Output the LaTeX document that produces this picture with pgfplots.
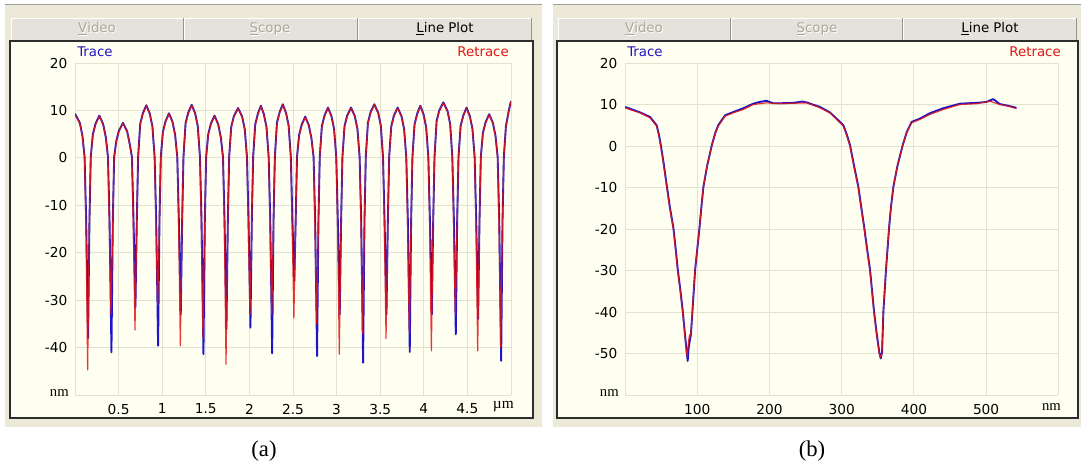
\documentclass[border=0pt]{standalone}
\usepackage{fontspec}
\setmainfont{DejaVu Sans}
\newfontfamily\serif{Liberation Serif}
\usepackage{pgfplots}
\pgfplotsset{compat=1.18}

\definecolor{panel}{RGB}{236,233,216}
\definecolor{ivory}{RGB}{255,255,241}
\definecolor{gridc}{RGB}{226,226,208}
\definecolor{btn}{RGB}{228,226,218}
\definecolor{btnshadow}{RGB}{150,148,138}
\definecolor{topline}{RGB}{160,158,150}
\definecolor{boxc}{RGB}{45,45,45}
\definecolor{dis}{RGB}{172,168,153}
\definecolor{trcol}{RGB}{30,20,200}
\definecolor{rtcol}{RGB}{228,20,20}

\newcommand\tabbtn[2]{%
  \fill[btn] (#1,18) rectangle (#2,40);
  \draw[white,line width=0.75pt] (#1,40)--(#1,18)--(#2,18);
  \draw[btnshadow,line width=0.75pt] (#1,40)--(#2,40)--(#2,18);}
\newcommand\distab[2]{%
  \node[text=white] at ({#1+1},30) {#2};
  \node[text=dis] at (#1,29) {#2};}

\pgfplotsset{afm/.style={
  scale only axis, height=249pt,
  axis line style={draw=none}, major tick length=0pt,
  grid=major, grid style={gridc, line width=0.75pt},
  ticklabel style={font=\fontsize{10.3}{12}\selectfont, inner sep=0pt},
  yticklabel style={anchor=east, xshift=-5.5pt},
  xticklabel style={anchor=north, yshift=-6.5pt}},
  tr/.style={trcol, line width=1.4pt, line join=round},
  rt/.style={rtcol, line width=0.9pt, line join=round, opacity=0.85}}

\begin{document}
\begin{tikzpicture}[x=0.75pt,y=-0.75pt,font=\fontsize{10}{12}\selectfont]
\fill[white] (0,0) rectangle (1081,468);
% panels
\fill[panel] (5,5) rectangle (542,427);
\fill[panel] (553,5) rectangle (1081,427);
\draw[topline,line width=1.2pt] (5,4.5)--(542,4.5);
\draw[topline,line width=1.2pt] (553,4.5)--(1081,4.5);
% tabs
\tabbtn{11}{183}\tabbtn{184}{357}\tabbtn{358}{531}
\tabbtn{558}{730}\tabbtn{731}{902}\tabbtn{903}{1076}
\distab{97}{\underline{V}ideo}\distab{270}{\underline{S}cope}
\node at (445,29) {\underline{L}ine Plot};
\distab{644}{\underline{V}ideo}\distab{817}{\underline{S}cope}
\node at (990,29) {\underline{L}ine Plot};
% plot boxes
\draw[fill=ivory,draw=boxc,line width=1.2pt] (10,41) rectangle (533,418);
\draw[fill=ivory,draw=boxc,line width=1.2pt] (557,41) rectangle (1078,418);

\coordinate (A) at (75,395);
\coordinate (B) at (625,395);

\begin{axis}[afm, at={(A)}, anchor=south west, width=327pt,
  xmin=0, xmax=5, ymin=-50, ymax=20,
  xtick={0,0.5,1,1.5,2,2.5,3,3.5,4,4.5,5},
  xticklabels={,0.5,1,1.5,2,2.5,3,3.5,4,4.5,},
  ytick={-50,-40,-30,-20,-10,0,10,20},
  yticklabels={,-40,-30,-20,-10,0,10,20}]
\addplot[tr] coordinates {
(0,9.3)
(0.055,7.4) (0.085,4.7) (0.110,0.2) (0.128,-13) (0.150,-38.0) (0.166,-13) (0.181,0.2) (0.205,5.0) (0.235,7.2) (0.279,8.9)
(0.323,7.1) (0.353,4.4) (0.378,0.2) (0.396,-13) (0.418,-41.0) (0.434,-13) (0.449,0.2) (0.473,3.5) (0.503,5.7) (0.550,7.4)
(0.598,5.6) (0.628,2.9) (0.653,0.2) (0.671,-13) (0.693,-31.5) (0.709,-13) (0.724,0.2) (0.748,7.2) (0.778,9.4) (0.818,11.1)
(0.858,9.3) (0.888,6.6) (0.913,0.2) (0.931,-13) (0.953,-39.6) (0.969,-13) (0.984,0.2) (1.008,5.5) (1.038,7.7) (1.078,9.4)
(1.118,7.6) (1.148,4.9) (1.173,0.2) (1.191,-13) (1.213,-33.0) (1.229,-13) (1.244,0.2) (1.268,7.3) (1.298,9.5) (1.338,11.2)
(1.378,9.4) (1.408,6.7) (1.433,0.2) (1.451,-13) (1.473,-41.4) (1.489,-13) (1.504,0.2) (1.528,5.0) (1.558,7.2) (1.600,8.9)
(1.642,7.1) (1.672,4.4) (1.697,0.2) (1.715,-13) (1.737,-36.0) (1.753,-13) (1.768,0.2) (1.792,6.6) (1.822,8.8) (1.870,10.5)
(1.917,8.7) (1.947,6.0) (1.972,0.2) (1.990,-13) (2.012,-35.8) (2.028,-13) (2.043,0.2) (2.067,7.1) (2.097,9.3) (2.132,11.0)
(2.166,9.2) (2.196,6.5) (2.221,0.2) (2.239,-13) (2.261,-41.2) (2.277,-13) (2.292,0.2) (2.316,7.4) (2.346,9.6) (2.383,11.3)
(2.420,9.5) (2.450,6.8) (2.475,0.2) (2.493,-13) (2.515,-26.0) (2.531,-13) (2.546,0.2) (2.570,4.8) (2.600,7.0) (2.640,8.7)
(2.681,6.9) (2.711,4.2) (2.736,0.2) (2.754,-13) (2.776,-41.8) (2.792,-13) (2.807,0.2) (2.831,6.7) (2.861,8.9) (2.901,10.6)
(2.941,8.8) (2.971,6.1) (2.996,0.2) (3.014,-13) (3.036,-33.0) (3.052,-13) (3.067,0.2) (3.091,6.7) (3.121,8.9) (3.165,10.6)
(3.209,8.8) (3.239,6.1) (3.264,0.2) (3.282,-13) (3.304,-43.2) (3.320,-13) (3.335,0.2) (3.359,7.4) (3.389,9.6) (3.433,11.3)
(3.477,9.5) (3.507,6.8) (3.532,0.2) (3.550,-13) (3.572,-33.0) (3.588,-13) (3.603,0.2) (3.627,6.7) (3.657,8.9) (3.700,10.6)
(3.744,8.8) (3.774,6.1) (3.799,0.2) (3.817,-13) (3.839,-40.9) (3.855,-13) (3.870,0.2) (3.894,7.1) (3.924,9.3) (3.960,11.0)
(3.997,9.2) (4.027,6.5) (4.052,0.2) (4.070,-13) (4.092,-33.0) (4.108,-13) (4.123,0.2) (4.147,7.8) (4.177,10.0) (4.224,11.7)
(4.272,9.9) (4.302,7.2) (4.327,0.2) (4.345,-13) (4.367,-37.2) (4.383,-13) (4.398,0.2) (4.422,6.7) (4.452,8.9) (4.490,10.6)
(4.528,8.8) (4.558,6.1) (4.583,0.2) (4.601,-13) (4.623,-34.0) (4.639,-13) (4.654,0.2) (4.678,5.3) (4.708,7.5) (4.750,9.2)
(4.792,7.4) (4.822,4.7) (4.847,0.2) (4.865,-13) (4.887,-42.8) (4.903,-13) (4.918,0.2) (4.942,6.7) (4.972,9.7) (5.000,12.0)
};
\addplot[rt] coordinates {
(0,9.1)
(0.055,7.3) (0.085,4.6) (0.110,0) (0.127,-16) (0.145,-44.7) (0.163,-16) (0.180,0) (0.205,4.8) (0.235,7.0) (0.279,8.8)
(0.323,7.0) (0.353,4.3) (0.378,0) (0.395,-16) (0.413,-33.0) (0.431,-16) (0.448,0) (0.473,3.3) (0.503,5.5) (0.550,7.3)
(0.598,5.5) (0.628,2.8) (0.653,0) (0.670,-16) (0.688,-36.3) (0.706,-16) (0.723,0) (0.748,7.0) (0.778,9.2) (0.818,11.0)
(0.858,9.2) (0.888,6.5) (0.913,0) (0.930,-16) (0.948,-31.0) (0.966,-16) (0.983,0) (1.008,5.3) (1.038,7.5) (1.078,9.3)
(1.118,7.5) (1.148,4.8) (1.173,0) (1.190,-16) (1.208,-39.6) (1.226,-16) (1.243,0) (1.268,7.1) (1.298,9.3) (1.338,11.1)
(1.378,9.3) (1.408,6.6) (1.433,0) (1.450,-16) (1.468,-38.0) (1.486,-16) (1.503,0) (1.528,4.8) (1.558,7.0) (1.600,8.8)
(1.642,7.0) (1.672,4.3) (1.697,0) (1.714,-16) (1.732,-43.5) (1.750,-16) (1.767,0) (1.792,6.4) (1.822,8.6) (1.870,10.4)
(1.917,8.6) (1.947,5.9) (1.972,0) (1.989,-16) (2.007,-33.0) (2.025,-16) (2.042,0) (2.067,6.9) (2.097,9.1) (2.132,10.9)
(2.166,9.1) (2.196,6.4) (2.221,0) (2.238,-16) (2.256,-33.0) (2.274,-16) (2.291,0) (2.316,7.2) (2.346,9.4) (2.383,11.2)
(2.420,9.4) (2.450,6.7) (2.475,0) (2.492,-16) (2.510,-33.8) (2.528,-16) (2.545,0) (2.570,4.6) (2.600,6.8) (2.640,8.6)
(2.681,6.8) (2.711,4.1) (2.736,0) (2.753,-16) (2.771,-35.0) (2.789,-16) (2.806,0) (2.831,6.5) (2.861,8.7) (2.901,10.5)
(2.941,8.7) (2.971,6.0) (2.996,0) (3.013,-16) (3.031,-41.4) (3.049,-16) (3.066,0) (3.091,6.5) (3.121,8.7) (3.165,10.5)
(3.209,8.7) (3.239,6.0) (3.264,0) (3.281,-16) (3.299,-37.0) (3.317,-16) (3.334,0) (3.359,7.2) (3.389,9.4) (3.433,11.2)
(3.477,9.4) (3.507,6.7) (3.532,0) (3.549,-16) (3.567,-38.1) (3.585,-16) (3.602,0) (3.627,6.5) (3.657,8.7) (3.700,10.5)
(3.744,8.7) (3.774,6.0) (3.799,0) (3.816,-16) (3.834,-37.0) (3.852,-16) (3.869,0) (3.894,6.9) (3.924,9.1) (3.960,10.9)
(3.997,9.1) (4.027,6.4) (4.052,0) (4.069,-16) (4.087,-40.7) (4.105,-16) (4.122,0) (4.147,7.6) (4.177,9.8) (4.224,11.6)
(4.272,9.8) (4.302,7.1) (4.327,0) (4.344,-16) (4.362,-33.0) (4.380,-16) (4.397,0) (4.422,6.5) (4.452,8.7) (4.490,10.5)
(4.528,8.7) (4.558,6.0) (4.583,0) (4.600,-16) (4.618,-40.7) (4.636,-16) (4.653,0) (4.678,5.1) (4.708,7.3) (4.750,9.1)
(4.792,7.3) (4.822,4.6) (4.847,0) (4.864,-16) (4.882,-40.0) (4.900,-16) (4.917,0) (4.942,6.5) (4.972,9.5) (5.000,11.9)
};
\end{axis}

\begin{axis}[afm, at={(B)}, anchor=south west, width=325pt,
  xmin=0, xmax=600, ymin=-60, ymax=20,
  xtick={0,100,200,300,400,500,600},
  xticklabels={,100,200,300,400,500,},
  ytick={-60,-50,-40,-30,-20,-10,0,10,20},
  yticklabels={,-50,-40,-30,-20,-10,0,10,20}]
\addplot[tr] coordinates {
(0,9.4) (10,8.8) (20.8,8.1) (34.6,7.0) (43.8,5.0) (47,2.7) (49.6,0.2) (53.2,-3.8) (57.9,-9.6) (62.2,-14.8)
(67.1,-19.8) (70.2,-24.8) (73.1,-29.8) (76.7,-34.8) (80,-39.8) (82.7,-44.8) (85.5,-49.8) (86.8,-51.8) (88.2,-48.5) (89.8,-46.8)
(91.2,-45.5) (93.4,-39.8) (97.1,-29.8) (103.1,-19.8) (105.7,-14.8) (108.6,-9.8) (113.7,-4.8) (120.2,0.2) (125.2,3.3) (129.4,5.1)
(138.6,7.4) (150,8.2) (163.8,9.1) (177.6,10.2) (186,10.6) (196,10.9) (205,10.3) (214.5,10.3) (233,10.4) (245,10.7)
(251.5,10.5) (270,9.4) (283.7,8.1) (295.3,6.2) (302.4,5.0) (307.2,2.7) (311.6,0.2) (317.2,-4.8) (323.1,-9.8) (327.2,-14.8)
(331.4,-19.8) (335.2,-24.8) (339.3,-29.8) (344.8,-39.8) (348.2,-44.8) (352.2,-49.8) (354.1,-51.2) (355.9,-49.8) (357.8,-39.8) (361.4,-29.8)
(365.6,-19.8) (368.2,-14.8) (371.6,-9.8) (377.2,-4.8) (384.5,0.2) (390.2,3.4) (396.9,5.8) (408.3,6.6) (422.1,7.9) (440.6,9.1)
(463.7,10.2) (486.8,10.4) (500,10.6) (510,11.3) (519,10.1) (530.5,9.7) (542,9.2)
};
\addplot[rt] coordinates {
(0,9.2) (10,8.6) (20.8,8.0) (34.6,6.8) (43.8,4.8) (47,2.5) (49.4,0) (53,-4) (57.7,-9.8) (62,-15)
(66.9,-20) (70,-25) (72.9,-30) (76.5,-35) (79.8,-40) (82.5,-45) (85.3,-50) (86.3,-50.6) (88,-47) (89.5,-45.5)
(91,-46) (93.2,-40) (96.9,-30) (102.9,-20) (105.5,-15) (108.4,-10) (113.5,-5) (120,0) (125,3) (129.2,4.8)
(138.4,7.2) (150,8.0) (163.8,8.8) (177.6,10.0) (196,10.4) (214.5,10.2) (233,10.3) (251.5,10.4) (270,9.2) (283.7,8.0)
(295.3,6.0) (302.2,4.8) (307,2.5) (311.4,0) (317,-5) (322.9,-10) (327,-15) (331.2,-20) (335,-25) (339.1,-30)
(344.6,-40) (348,-45) (352,-50) (353.9,-51) (355.7,-50) (357.6,-40) (361.2,-30) (365.4,-20) (368,-15) (371.4,-10)
(377,-5) (384.3,0) (390,3.2) (396.7,5.6) (408.3,6.4) (422.1,7.6) (440.6,8.8) (463.7,10.0) (486.8,10.2) (505.2,10.8)
(519,10.0) (530.5,9.6) (542,9.0)
};
\end{axis}

% labels
\node[anchor=west,text=trcol,inner sep=0pt] at (77,52) {Trace};
\node[anchor=east,text=rtcol,inner sep=0pt] at (509,52) {Retrace};
\node[anchor=west,text=trcol,inner sep=0pt] at (627,52) {Trace};
\node[anchor=east,text=rtcol,inner sep=0pt] at (1061,52) {Retrace};
\node[anchor=east,inner sep=0pt,font=\serif\fontsize{11}{12}\selectfont] at (69,393) {nm};
\node[anchor=east,inner sep=0pt,font=\serif\fontsize{11}{12}\selectfont] at (619,393) {nm};
\node[anchor=east,inner sep=0pt,font=\serif\fontsize{11.5}{12}\selectfont] at (514,407) {µm};
\node[anchor=east,inner sep=0pt,font=\serif\fontsize{11}{12}\selectfont] at (1061,407) {nm};
\node[font=\serif\fontsize{17}{20}\selectfont] at (264,451) {(a)};
\node[font=\serif\fontsize{17}{20}\selectfont] at (812,451) {(b)};
\pgfresetboundingbox
\path[use as bounding box] (0,0) rectangle (1081,468);
\end{tikzpicture}
\end{document}
